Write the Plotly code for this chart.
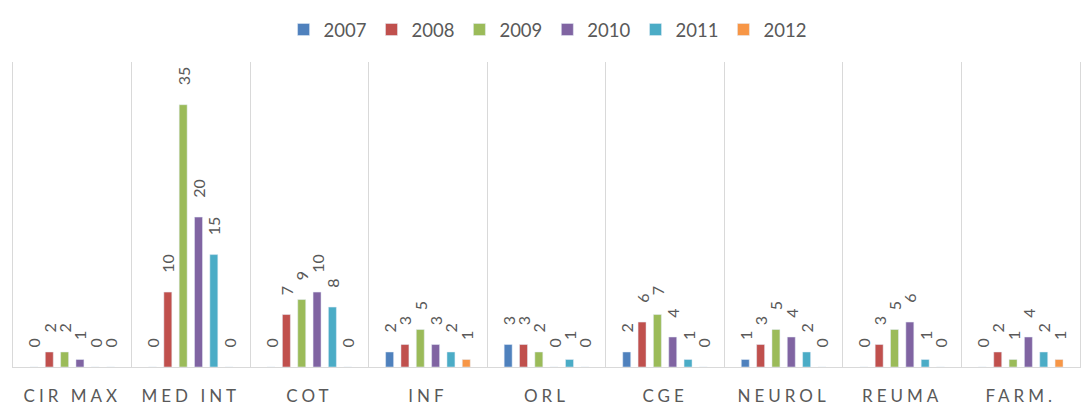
import plotly.graph_objects as go

categories = ["CIR MAX", "MED INT", "COT", "INF", "ORL", "CGE", "NEUROL", "REUMA", "FARM."]
years = ["2007", "2008", "2009", "2010", "2011", "2012"]
v2007 = [0, 0, 0, 2, 3, 2, 1, 0, 0]
v2008 = [2, 10, 7, 3, 3, 6, 3, 3, 2]
v2009 = [2, 35, 9, 5, 2, 7, 5, 5, 1]
v2010 = [1, 20, 10, 3, 0, 4, 4, 6, 4]
v2011 = [0, 15, 8, 2, 1, 1, 2, 1, 2]
v2012 = [0, 0, 0, 1, 0, 0, 0, 0, 1]
series = [v2007, v2008, v2009, v2010, v2011, v2012]
colors = ["#4F81BD", "#C0504D", "#9BBB59", "#8064A2", "#4BACC6", "#F79646"]

FONT = "Lato"
GRAY = "#595959"

fig = go.Figure()
for name, vals, col in zip(years, series, colors):
    fig.add_trace(go.Bar(
        name=name, x=categories, y=vals, marker_color=col,
        text=vals, texttemplate="\u00a0\u00a0\u00a0\u00a0%{y}", textposition="outside",
        textangle=-90, constraintext="none", cliponaxis=False,
        textfont=dict(family=FONT, size=16, color=GRAY),
    ))

fig.update_layout(
    width=1083, height=402,
    margin=dict(l=13, r=3, t=62, b=35, autoexpand=False),
    paper_bgcolor="white", plot_bgcolor="white",
    barmode="group", bargap=0.224, bargroupgap=0.48,
    legend=dict(orientation="h", x=0.501, xanchor="center", y=1.105, yanchor="middle",
                font=dict(family=FONT, size=18.5, color=GRAY), itemwidth=30),
    xaxis=dict(tickson="boundaries", showgrid=True, gridcolor="#d9d9d9", gridwidth=1,
               showline=True, linecolor="#d9d9d9", ticks="", ticklabelstandoff=14,
               automargin=False,
               tickfont=dict(family=FONT, size=17, color=GRAY), range=[-0.5, 8.5]),
    yaxis=dict(range=[0, 40.7], showgrid=False, zeroline=False, automargin=False,
               showticklabels=False, ticks="", showline=True, linecolor="#d9d9d9", mirror=True),
)

css = ("document.body.style.margin='0';"
       "var s=document.createElement('style');s.innerHTML='body{margin:0}.xtick text{letter-spacing:4px}';"
       "document.head.appendChild(s);")
fig.write_html("out.html", post_script=css, config={"displayModeBar": False})
